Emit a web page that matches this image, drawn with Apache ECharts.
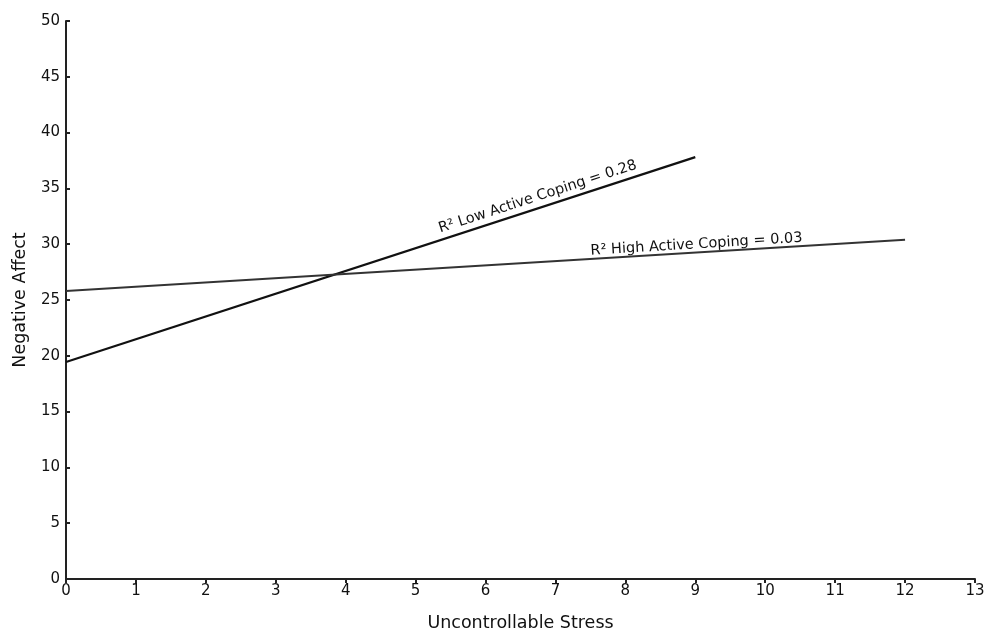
<!DOCTYPE html>
<html><head><meta charset="utf-8">
<script src="https://cdn.jsdelivr.net/npm/echarts@6/dist/echarts.min.js"></script>
<style>html,body{margin:0;padding:0;background:#fff}#c{width:987px;height:633px}</style>
</head><body><div id="c"></div>
<script>
const xTicks = [0,1,2,3,4,5,6,7,8,9,10,11,12,13];
const yTicks = [0,5,10,15,20,25,30,35,40,45,50];
const lowX = [0, 9];
const lowY = [19.45, 37.8];
const highX = [0, 12];
const highY = [25.8, 30.4];
const lowLabel = 'R² Low Active Coping = 0.28';
const highLabel = 'R² High Active Coping = 0.03';
const FONT = '"DejaVu Sans", sans-serif';

const chart = echarts.init(document.getElementById('c'));
const axisCommon = {
  axisLine: {show: true, lineStyle: {color: '#222', width: 2}},
  splitLine: {show: false},
  axisLabel: {color: '#111', fontSize: 15, fontFamily: FONT},
  nameTextStyle: {color: '#111', fontSize: 17.5, fontFamily: FONT}
};
chart.setOption({
  animation: false,
  grid: {left: 66, right: 12, top: 21, bottom: 54, containLabel: false, outerBoundsMode: 'none'},
  xAxis: Object.assign({}, axisCommon, {
    type: 'value', min: xTicks[0], max: xTicks[xTicks.length-1], interval: 1,
    name: 'Uncontrollable Stress', nameLocation: 'middle', nameGap: 35,
    axisTick: {show: true, length: 4, lineStyle: {color: '#222', width: 2}},
    axisLabel: Object.assign({}, axisCommon.axisLabel, {margin: 5})
  }),
  yAxis: Object.assign({}, axisCommon, {
    type: 'value', min: yTicks[0], max: yTicks[yTicks.length-1], interval: 5,
    name: 'Negative Affect', nameLocation: 'middle', nameGap: 37,
    axisTick: {show: true, inside: true, length: 4, lineStyle: {color: '#222', width: 2}},
    axisLabel: Object.assign({}, axisCommon.axisLabel, {margin: 6})
  }),
  series: [
    {type: 'line', data: lowX.map((x,i)=>[x, lowY[i]]), showSymbol: false,
     lineStyle: {color: '#111', width: 2.2}},
    {type: 'line', data: highX.map((x,i)=>[x, highY[i]]), showSymbol: false,
     lineStyle: {color: '#333', width: 2}}
  ]
});

function labelFor(xs, ys, t, text, off) {
  const xv = xs[0] + (xs[1]-xs[0])*t;
  const yv = ys[0] + (ys[1]-ys[0])*t;
  const p0 = chart.convertToPixel({gridIndex: 0}, [xs[0], ys[0]]);
  const p1 = chart.convertToPixel({gridIndex: 0}, [xs[1], ys[1]]);
  const ang = Math.atan2(p0[1]-p1[1], p1[0]-p0[0]);
  const p = chart.convertToPixel({gridIndex: 0}, [xv, yv]);
  const cx = p[0] - Math.sin(ang)*off;
  const cy = p[1] - Math.cos(ang)*off;
  return {type: 'text', x: cx, y: cy, rotation: ang, originX: 0, originY: 0,
    style: {text: text, fill: '#111', font: '14.5px ' + FONT, align: 'center', verticalAlign: 'middle'}};
}
chart.setOption({graphic: [
  labelFor(lowX, lowY, 0.755, lowLabel, 11),
  labelFor(highX, highY, 0.752, highLabel, 8)
]});
</script></body></html>
